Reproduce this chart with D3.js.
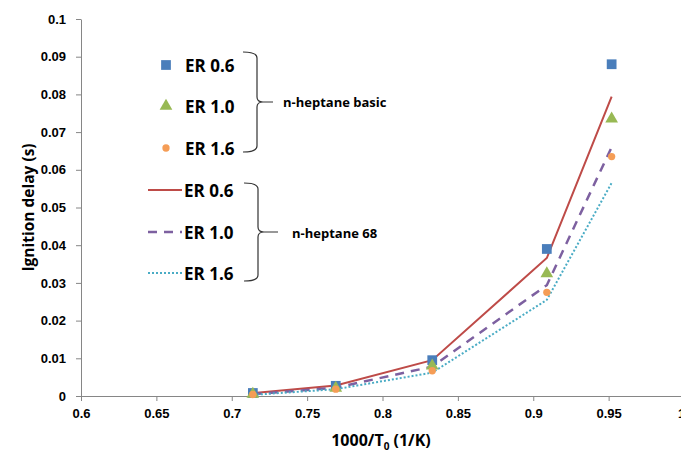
<!DOCTYPE html>
<html>
<head>
<meta charset="utf-8">
<script src="https://cdn.jsdelivr.net/npm/d3@7"></script>
<style>
body { margin: 0; background: #fff; }
svg { display: block; font-family: "Open Sans", "Liberation Sans", sans-serif; }
</style>
</head>
<body>
<svg width="681" height="453"></svg>
<script>
// 1000/T0 values (T0 = 1400, 1300, 1200, 1100, 1050 K)
var invT = [0.714, 0.769, 0.833, 0.909, 0.952];

// n-heptane basic (markers)
var basic06 = [0.0008, 0.0027, 0.0095, 0.0390, 0.0880];
var basic10 = [0.0005, 0.0021, 0.0080, 0.0325, 0.0735];
var basic16 = [0.0004, 0.0018, 0.0067, 0.0275, 0.0635];

// n-heptane 68 (lines)
var h68_06 = [0.0008, 0.0028, 0.0095, 0.0366, 0.0794];
var h68_10 = [0.0005, 0.0022, 0.0078, 0.0294, 0.0660];
var h68_16 = [0.0003, 0.0018, 0.0062, 0.0255, 0.0565];

var xTicks = [0.6, 0.65, 0.7, 0.75, 0.8, 0.85, 0.9, 0.95, 1];
var yTicks = [0, 0.01, 0.02, 0.03, 0.04, 0.05, 0.06, 0.07, 0.08, 0.09, 0.1];
var erLabels = ["ER 0.6", "ER 1.0", "ER 1.6"];

var svg = d3.select("svg");
var pLeft = 81, pRight = 684, pTop = 19, pBottom = 396;

var x = d3.scaleLinear().domain([0.6, 1.0]).range([pLeft, pRight]);
var y = d3.scaleLinear().domain([0, 0.1]).range([pBottom, pTop]);

var axisColor = "#868686";

// axes
var xAxis = svg.append("g")
    .attr("transform", "translate(0," + pBottom + ")")
    .call(d3.axisBottom(x).tickValues(xTicks).tickSize(5).tickSizeOuter(0)
        .tickFormat(function(d) { return String(+d.toFixed(2)); }));
xAxis.select(".domain").attr("stroke", axisColor);
xAxis.selectAll(".tick line").attr("stroke", axisColor);
xAxis.selectAll(".tick text").attr("fill", "#000").attr("font-size", 13)
    .attr("font-weight", "bold").attr("dy", "1.1em")
    .attr("dx", function(d) { return d === 1 ? -3 : 0; });

var yAxis = svg.append("g")
    .attr("transform", "translate(" + pLeft + ",0)")
    .call(d3.axisLeft(y).tickValues(yTicks).tickSize(5).tickSizeOuter(0)
        .tickFormat(function(d) { return String(+d.toFixed(2)); }));
yAxis.select(".domain").attr("stroke", axisColor);
yAxis.selectAll(".tick line").attr("stroke", axisColor);
yAxis.selectAll(".tick text").attr("fill", "#000").attr("font-size", 13)
    .attr("font-weight", "bold").attr("x", -15);

// axis titles
svg.append("text")
    .attr("transform", "translate(30," + (pTop + pBottom) / 2 + ") rotate(-90)")
    .attr("text-anchor", "middle").attr("dominant-baseline", "middle")
    .attr("font-size", 15.5).attr("font-weight", "bold")
    .text("Ignition delay (s)");

var xt = svg.append("text")
    .attr("x", 381).attr("y", 446)
    .attr("text-anchor", "middle")
    .attr("font-size", 16).attr("font-weight", "bold");
xt.append("tspan").text("1000/T");
xt.append("tspan").attr("font-size", 10).attr("dy", 4).text("0");
xt.append("tspan").attr("dy", -4).text(" (1/K)");

// lines
var line = d3.line()
    .x(function(d, i) { return x(invT[i]); })
    .y(function(d) { return y(d); });

var lineSeries = [
    { v: h68_06, color: "#BE4B48", dash: null, w: 2 },
    { v: h68_10, color: "#7D60A0", dash: "9,7", w: 2.5 },
    { v: h68_16, color: "#4AACC5", dash: "2,2", w: 2 }
];

svg.append("g").selectAll("path")
    .data(lineSeries).enter().append("path")
    .attr("d", function(d) { return line(d.v); })
    .attr("fill", "none")
    .attr("stroke", function(d) { return d.color; })
    .attr("stroke-width", function(d) { return d.w; })
    .attr("stroke-dasharray", function(d) { return d.dash; });

// markers
var markerSeries = [
    { v: basic06, color: "#4A7EBB", sym: d3.symbolSquare, size: 95 },
    { v: basic10, color: "#98B954", sym: d3.symbolTriangle, size: 70 },
    { v: basic16, color: "#F59D56", sym: d3.symbolCircle, size: 42 }
];

markerSeries.forEach(function(s) {
    svg.append("g").selectAll("path")
        .data(s.v).enter().append("path")
        .attr("transform", function(d, i) { return "translate(" + x(invT[i]) + "," + y(d) + ")"; })
        .attr("d", d3.symbol().type(s.sym).size(s.size))
        .attr("fill", s.color);
});

// legend: markers
var legMarkY = [65, 106, 148];
markerSeries.forEach(function(s, i) {
    svg.append("path")
        .attr("transform", "translate(166," + legMarkY[i] + ")")
        .attr("d", d3.symbol().type(s.sym).size(s.size))
        .attr("fill", s.color);
    svg.append("text")
        .attr("x", 185).attr("y", legMarkY[i])
        .attr("dominant-baseline", "central")
        .attr("font-size", 17).attr("font-weight", "bold")
        .text(erLabels[i]);
});

// legend: lines
var legLineY = [190, 232, 273];
lineSeries.forEach(function(s, i) {
    svg.append("line")
        .attr("x1", 148).attr("x2", 182)
        .attr("y1", legLineY[i]).attr("y2", legLineY[i])
        .attr("stroke", s.color).attr("stroke-width", s.w)
        .attr("stroke-dasharray", s.dash);
    svg.append("text")
        .attr("x", 184).attr("y", legLineY[i])
        .attr("dominant-baseline", "central")
        .attr("font-size", 17).attr("font-weight", "bold")
        .text(erLabels[i]);
});

// braces
function brace(xv, y0, y1, tipLen) {
    var ym = (y0 + y1) / 2;
    return "M" + (xv - 14) + "," + y0 +
        " Q" + xv + "," + y0 + " " + xv + "," + (y0 + 6) +
        " L" + xv + "," + (ym - 5) +
        " Q" + xv + "," + ym + " " + (xv + 6) + "," + ym +
        " L" + (xv + tipLen) + "," + ym +
        " M" + (xv + 6) + "," + ym +
        " Q" + xv + "," + ym + " " + xv + "," + (ym + 5) +
        " L" + xv + "," + (y1 - 6) +
        " Q" + xv + "," + y1 + " " + (xv - 14) + "," + y1;
}
svg.append("path").attr("d", brace(257, 52, 152, 16))
    .attr("fill", "none").attr("stroke", "#333").attr("stroke-width", 1.2);
svg.append("path").attr("d", brace(258, 183, 281, 20))
    .attr("fill", "none").attr("stroke", "#333").attr("stroke-width", 1.2);

svg.append("text").attr("x", 283).attr("y", 102)
    .attr("dominant-baseline", "central")
    .attr("font-size", 13).attr("font-weight", "bold")
    .text("n-heptane  basic");
svg.append("text").attr("x", 292).attr("y", 233)
    .attr("dominant-baseline", "central")
    .attr("font-size", 13).attr("font-weight", "bold")
    .text("n-heptane  68");
</script>
</body>
</html>
